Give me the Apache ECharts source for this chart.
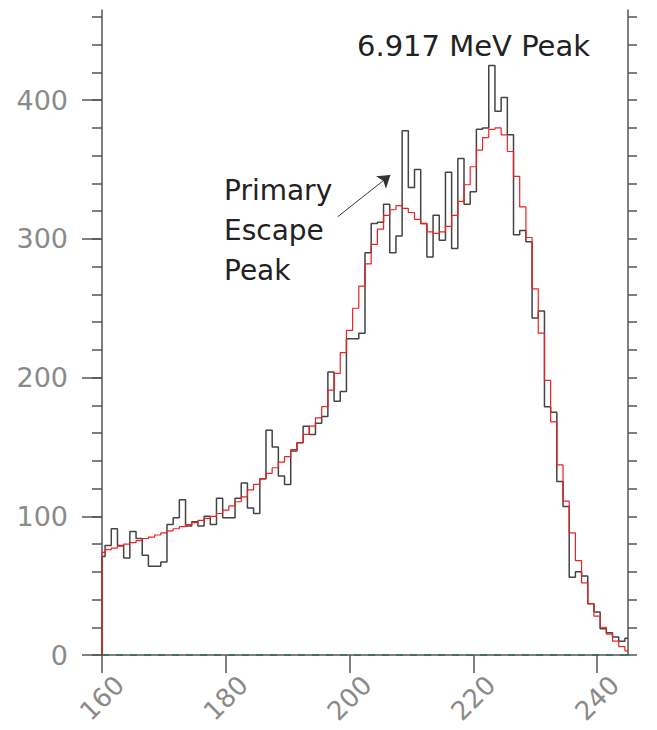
<!DOCTYPE html>
<html>
<head>
<meta charset="utf-8">
<script src="https://cdn.jsdelivr.net/npm/echarts@6/dist/echarts.min.js"></script>
<style>html,body{margin:0;padding:0;background:#fff}#c{width:657px;height:730px}</style>
</head>
<body>
<div id="c"></div>
<script>
// Channel numbers (bin centres)
var channels = [160,161,162,163,164,165,166,167,168,169,170,171,172,173,174,175,176,177,178,179,
180,181,182,183,184,185,186,187,188,189,190,191,192,193,194,195,196,197,198,199,
200,201,202,203,204,205,206,207,208,209,210,211,212,213,214,215,216,217,218,219,
220,221,222,223,224,225,226,227,228,229,230,231,232,233,234,235,236,237,238,239,
240,241,242,243,244,245];
// Measured counts (black histogram)
var measured = [71,79,91,79,70,89,84,72,64,64,67,94,99,112,93,96,93,100,94,113,
99,99,113,124,106,102,127,162,150,129,123,147,153,165,159,167,172,204,183,190,
228,228,232,290,311,312,325,290,302,378,337,350,311,287,317,299,348,293,358,325,
334,379,380,425,392,402,375,303,306,298,243,248,179,175,125,107,56,60,57,37,
31,19,16,13,10,12];
// Fitted response (red histogram)
var fitted = [74,76,77,78.5,80,81,82.5,84,85,86.5,88,89.5,91,92.5,94,95.5,97,98.5,100,102,
104.5,107.5,110.5,114,119,123,127,131,135,139,143,148,153,159,165,171,179,191,203,218,
234,250,266,282,296,307,317,321,324,322,319,314,311,305,304,305,309,317,327,339,
352,364,373,379,380,375,363,345,323,301,264,232,198,168,137,111,88,68,52,37,
28,20,15,10,6,3];
var xTicks = [160,180,200,220,240];
var yLabels = [0,100,200,300,400];
var yMinor = [0,20,40,60,80,100,120,140,160,180,200,220,240,260,280,300,320,340,360,380,400,420,440,460];
var Y_MAX = 465, X_MIN = 160, X_MAX = 245;

function toPairs(xs, ys){
  var out = [[xs[0], 0]];
  for (var i = 0; i < xs.length; i++) out.push([xs[i], ys[i]]);
  return out;
}

var chart = echarts.init(document.getElementById('c'), null, {renderer: 'svg'});
var axisColor = '#555';
var labelColor = '#8a8a8a';
var font = 'DejaVu Sans';
chart.setOption({
  animation: false,
  backgroundColor: '#fff',
  grid: {left: 102, right: 29, top: 10, bottom: 75, containLabel: false, outerBoundsMode: 'none'},
  xAxis: {
    type: 'value', min: X_MIN, max: X_MAX,
    axisLine: {show: true, lineStyle: {color: axisColor, width: 1.5}},
    axisTick: {show: true, length: 18, customValues: xTicks, lineStyle: {color: axisColor, width: 1.5}},
    axisLabel: {customValues: xTicks, rotate: 45, margin: 43, align: 'center', verticalAlign: 'middle',
      color: labelColor, fontSize: 26, fontFamily: font},
    splitLine: {show: false}
  },
  yAxis: [
    {
      type: 'value', min: 0, max: Y_MAX, position: 'left',
      axisLine: {show: true, lineStyle: {color: axisColor, width: 1.5}},
      axisTick: {show: true, length: 10, customValues: yMinor, lineStyle: {color: axisColor, width: 1.5}},
      axisLabel: {customValues: yLabels, margin: 34, color: labelColor, fontSize: 27, fontFamily: font},
      splitLine: {show: false}
    },
    {
      type: 'value', min: 0, max: Y_MAX, position: 'left',
      axisLine: {show: false},
      axisTick: {show: true, length: 20, customValues: yLabels, lineStyle: {color: axisColor, width: 1.5}},
      axisLabel: {show: false},
      splitLine: {show: false}
    },
    {
      type: 'value', min: 0, max: Y_MAX, position: 'right',
      axisLine: {show: true, lineStyle: {color: axisColor, width: 1.5}},
      axisTick: {show: true, length: 9, customValues: yMinor, lineStyle: {color: axisColor, width: 1.5}},
      axisLabel: {show: false},
      splitLine: {show: false}
    }
  ],
  series: [
    {
      type: 'line', name: 'measured', step: 'middle', showSymbol: false, symbol: 'none',
      data: toPairs(channels, measured),
      lineStyle: {color: '#444', width: 1.5}, z: 3,
      markLine: {
        silent: true, symbol: ['none', 'arrow'], symbolSize: 12,
        lineStyle: {color: '#333', width: 1, type: 'solid'},
        itemStyle: {color: '#222'},
        label: {show: false},
        data: [[{coord: [198.1, 316]}, {coord: [206.6, 346]}]]
      }
    },
    {
      type: 'line', name: 'fit', step: 'middle', showSymbol: false, symbol: 'none',
      data: toPairs(channels, fitted),
      lineStyle: {color: '#ee2222', width: 1.2}, z: 4,
      markLine: {
        silent: true, symbol: 'none',
        lineStyle: {color: '#2f6f55', width: 1.5, type: [7, 7]},
        label: {show: false},
        data: [{yAxis: 0}]
      }
    }
  ],
  graphic: [
    {type: 'text', left: 357, top: 31, style: {text: '6.917 MeV Peak', font: '29px "DejaVu Sans"', fill: '#222'}},
    {type: 'text', left: 224, top: 170, style: {text: 'Primary\nEscape\nPeak', font: '28px "DejaVu Sans"', lineHeight: 40, fill: '#222'}}
  ]
});
</script>
</body>
</html>
